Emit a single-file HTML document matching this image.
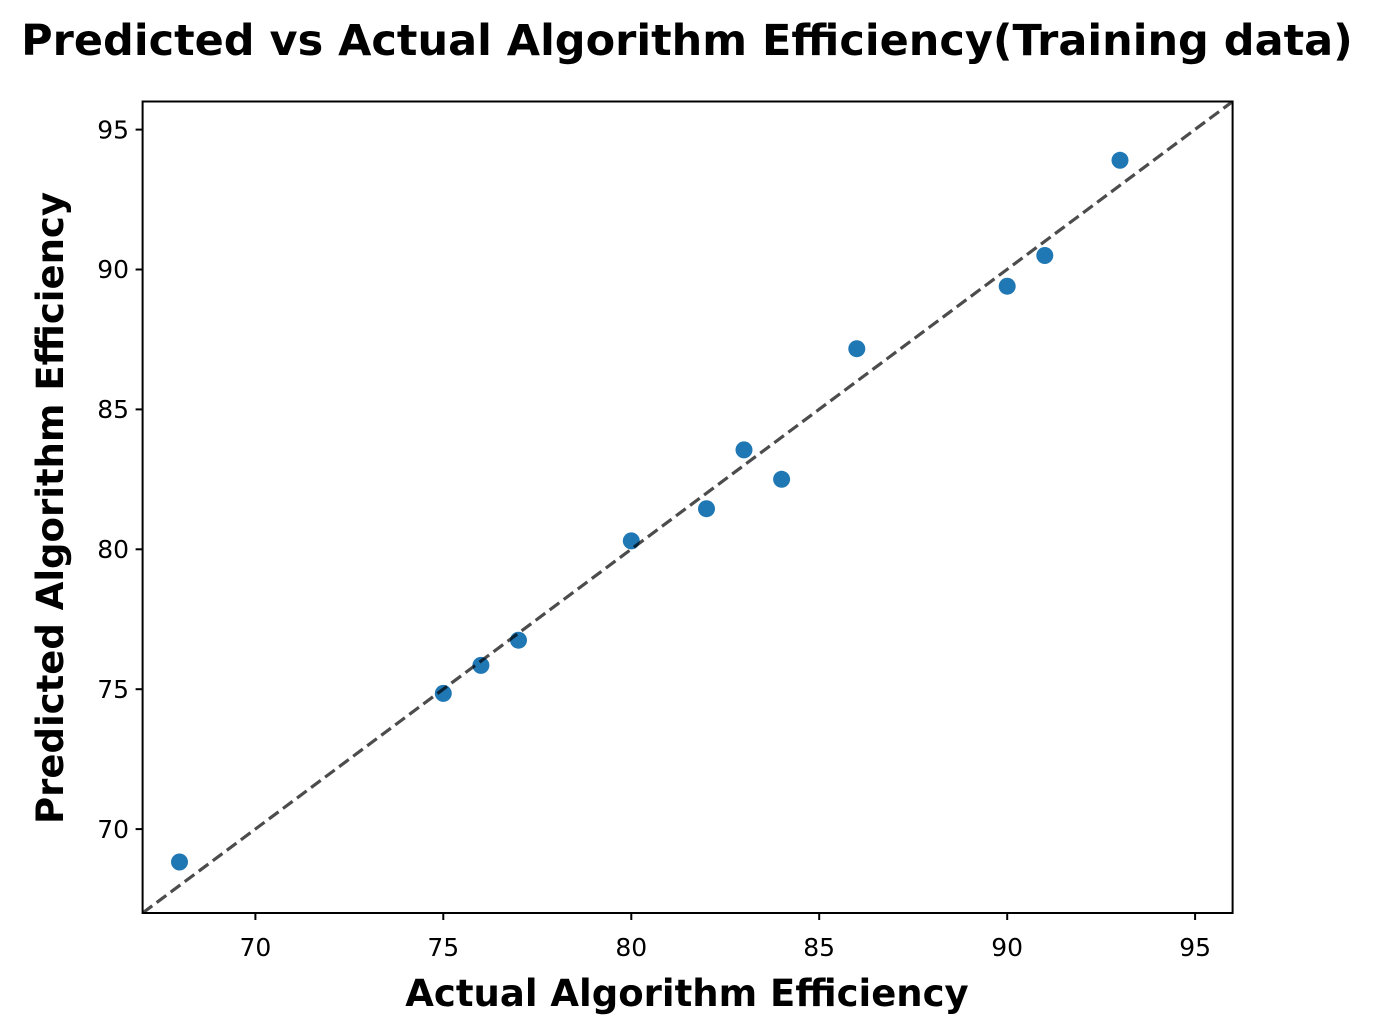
<!DOCTYPE html>
<html><head><meta charset="utf-8"><style>
html,body{margin:0;padding:0;background:#fff;}
svg{display:block;font-family:"DejaVu Sans","Liberation Sans",sans-serif;}
</style></head><body>
<svg width="1374" height="1035" viewBox="0 0 1374 1035" xmlns="http://www.w3.org/2000/svg">
<rect width="1374" height="1035" fill="#fff"/>
<text x="687" y="55" text-anchor="middle" font-size="43" font-weight="bold">Predicted vs Actual Algorithm Efficiency(Training data)</text>
<defs><clipPath id="c"><rect x="142.6" y="101.5" width="1090" height="811.5"/></clipPath></defs>
<g fill="#1f77b4">
<circle cx="179.5" cy="862" r="8.5"/>
<circle cx="443.3" cy="693.4" r="8.5"/>
<circle cx="480.9" cy="665.4" r="8.5"/>
<circle cx="518.5" cy="640.2" r="8.5"/>
<circle cx="631.3" cy="540.9" r="8.5"/>
<circle cx="706.5" cy="508.7" r="8.5"/>
<circle cx="744.0" cy="449.9" r="8.5"/>
<circle cx="781.6" cy="479.3" r="8.5"/>
<circle cx="856.8" cy="348.7" r="8.5"/>
<circle cx="1007.2" cy="286.2" r="8.5"/>
<circle cx="1044.8" cy="255.5" r="8.5"/>
<circle cx="1120.0" cy="160.3" r="8.5"/>
</g>
<line x1="142.6" y1="913" x2="1232.6" y2="101.5" stroke="#000" stroke-opacity="0.7" stroke-width="3.2" stroke-dasharray="12,5.5" clip-path="url(#c)"/>
<rect x="142.6" y="101.5" width="1090" height="811.5" fill="none" stroke="#000" stroke-width="2"/>
<g stroke="#000" stroke-width="2">
<line x1="255.4" y1="913" x2="255.4" y2="920"/>
<line x1="443.3" y1="913" x2="443.3" y2="920"/>
<line x1="631.3" y1="913" x2="631.3" y2="920"/>
<line x1="819.2" y1="913" x2="819.2" y2="920"/>
<line x1="1007.2" y1="913" x2="1007.2" y2="920"/>
<line x1="1195.1" y1="913" x2="1195.1" y2="920"/>
<line x1="142.6" y1="829.1" x2="135.6" y2="829.1"/>
<line x1="142.6" y1="689.2" x2="135.6" y2="689.2"/>
<line x1="142.6" y1="549.3" x2="135.6" y2="549.3"/>
<line x1="142.6" y1="409.4" x2="135.6" y2="409.4"/>
<line x1="142.6" y1="269.5" x2="135.6" y2="269.5"/>
<line x1="142.6" y1="129.6" x2="135.6" y2="129.6"/>
</g>
<g font-size="25" text-anchor="middle">
<text x="255.4" y="956">70</text>
<text x="443.3" y="956">75</text>
<text x="631.3" y="956">80</text>
<text x="819.2" y="956">85</text>
<text x="1007.2" y="956">90</text>
<text x="1195.1" y="956">95</text>
</g>
<g font-size="25" text-anchor="end">
<text x="129" y="838">70</text>
<text x="129" y="698">75</text>
<text x="129" y="558">80</text>
<text x="129" y="418">85</text>
<text x="129" y="278">90</text>
<text x="129" y="138.5">95</text>
</g>
<text x="687" y="1006" text-anchor="middle" font-size="37" font-weight="bold">Actual Algorithm Efficiency</text>
<text transform="translate(63,508) rotate(-90)" text-anchor="middle" font-size="37" font-weight="bold">Predicted Algorithm Efficiency</text>
</svg>
</body></html>
